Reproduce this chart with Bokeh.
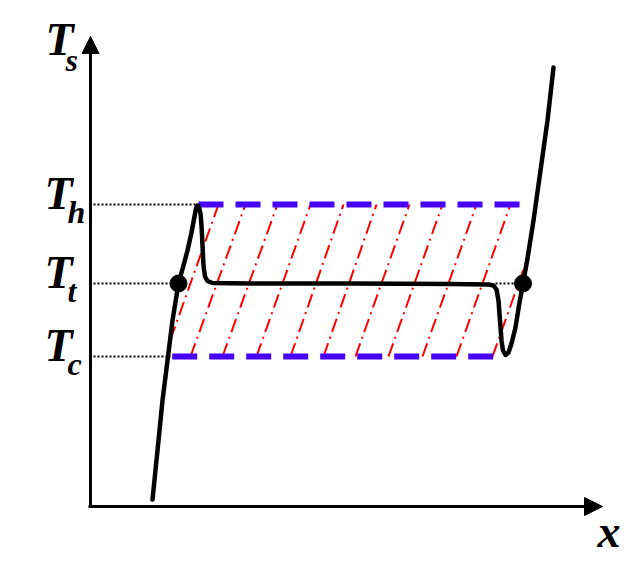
from bokeh.plotting import figure
from bokeh.models import Range1d, Arrow, NormalHead
from bokeh.core.properties import value
from bokeh.embed import file_html
from bokeh.resources import INLINE

# ---- data (schematic units) ----
T_h, T_t, T_c = 302, 223, 150
axis_y_top = 470
axis_x_end = 512

curve_x = [62, 67, 72, 77, 82, 88, 93, 97, 101, 104, 105.5, 107, 108.5, 110, 111, 112, 113,
           114.5, 117, 122, 160, 260, 360, 398, 403, 406, 408, 409.5, 411, 412.5, 415, 418,
           421, 425, 428.5, 432.5, 437, 443, 450, 457, 463]
curve_y = [7, 56, 106, 146, 186, 223, 241, 256, 274, 290, 298, 301, 299, 293, 281, 261, 241,
           230, 225.5, 223.5, 223, 223, 222.5, 222, 221, 217, 206, 186, 166, 156, 151.5, 154,
           163, 179, 201, 223, 248, 286, 336, 386, 439]

# stable-branch points used as the hatch boundaries
left_branch = [(77, 146), (88, 223)]
right_branch = [(432.5, 223), (443, 286)]

# hatch lines: x where each line meets T_c and where it meets T_h
hatch_x_low = [74, 100, 132, 166, 200, 233, 265, 298, 332, 366, 402]
hatch_x_high = [128, 155, 187, 220, 253, 286, 319, 352, 386, 420, 456]

# intersection points (circles) and dashed bounds
circle_x = [88, 432.5]
circle_y = [T_t, T_t]
th_span = [108, 432]
tc_span = [81.7, 404.3]
peak_x = 106
tc_left_x = 80
tt_right_start = 405

y_labels = ["h", "t", "c"]
y_levels = [T_h, T_t, T_c]

# ---- figure ----
p = figure(width=630, height=562, x_range=Range1d(-90, 540), y_range=Range1d(-56, 506),
           output_backend="svg", toolbar_location=None, min_border=0,
           x_axis_type=None, y_axis_type=None)
p.grid.visible = False
p.outline_line_color = None
p.background_fill_color = "white"
p.border_fill_color = "white"

# hatch lines clipped between T_c / T_h and the two stable branches
def branch_x(br, y):
    (x0, y0), (x1, y1) = br
    return x0 + (y - y0) * (x1 - x0) / (y1 - y0)

hx0, hy0, hx1, hy1 = [], [], [], []
for xl, xh in zip(hatch_x_low, hatch_x_high):
    def hx(y):
        return xl + (xh - xl) * (y - T_c) / (T_h - T_c)
    ylo, yhi = T_c, T_h
    a0 = hx(T_c) - branch_x(left_branch, T_c)
    a1 = hx(T_h) - branch_x(left_branch, T_h)
    if a0 < 0 and a1 > 0:
        ylo = T_c + (T_h - T_c) * (-a0) / (a1 - a0)
    elif a0 < 0 and a1 <= 0:
        continue
    b0 = branch_x(right_branch, T_c) - hx(T_c)
    b1 = branch_x(right_branch, T_h) - hx(T_h)
    if b0 > 0 and b1 < 0:
        yhi = T_c + (T_h - T_c) * b0 / (b0 - b1)
    elif b0 <= 0:
        continue
    if yhi <= ylo:
        continue
    hx0.append(hx(ylo)); hy0.append(ylo)
    hx1.append(hx(yhi)); hy1.append(yhi)

p.segment(x0=hx0, y0=hy0, x1=hx1, y1=hy1, line_color="#ff0000", line_width=2,
          line_dash="14 5 2 5")

# blue dashed bounds
p.line(x=th_span, y=[T_h, T_h], line_color="#4600f5", line_width=6, line_dash="25 12")
p.line(x=tc_span, y=[T_c, T_c], line_color="#4600f5", line_width=6, line_dash="25 12")

# black dotted guides
p.line(x=[3, peak_x], y=[T_h, T_h], line_color="black", line_width=2, line_dash="2 2")
p.line(x=[3, circle_x[0]], y=[T_t, T_t], line_color="black", line_width=2, line_dash="2 2")
p.line(x=[3, tc_left_x], y=[T_c, T_c], line_color="black", line_width=2, line_dash="2 2")
p.line(x=[tt_right_start, circle_x[1]], y=[T_t, T_t], line_color="black", line_width=2,
       line_dash="2 2")

# curve
p.line(x=curve_x, y=curve_y, line_color="black", line_width=4.5, line_join="round",
       line_cap="round")
p.scatter(x=circle_x, y=circle_y, size=17, marker="circle", fill_color="black",
          line_color="black")

# axes with arrows
p.add_layout(Arrow(end=NormalHead(size=17, fill_color="black", line_color="black", line_width=1),
                   x_start=0, y_start=-1, x_end=0, y_end=axis_y_top,
                   line_width=3, line_color="black"))
p.add_layout(Arrow(end=NormalHead(size=18, fill_color="black", line_color="black", line_width=1),
                   x_start=-2, y_start=0, x_end=axis_x_end, y_end=0,
                   line_width=3, line_color="black"))

font = value("Liberation Serif")
# T labels on the y side
p.text(x=[0] * 3, y=y_levels, text=["T"] * 3, x_offset=-46, y_offset=-11,
       text_font=font, text_font_style="bold italic", text_font_size="46px",
       text_baseline="alphabetic", text_align="left", text_color="black")
p.text(x=[0] * 3, y=y_levels, text=y_labels, x_offset=-23, y_offset=7,
       text_font=font, text_font_style="bold italic", text_font_size="32px",
       text_baseline="alphabetic", text_align="left", text_color="black")
# T_s at the top of the vertical axis
p.text(x=[0], y=[axis_y_top], text=["T"], x_offset=-45, y_offset=3,
       text_font=font, text_font_style="bold italic", text_font_size="46px",
       text_baseline="alphabetic", text_align="left", text_color="black")
p.text(x=[0], y=[axis_y_top], text=["s"], x_offset=-25, y_offset=23,
       text_font=font, text_font_style="bold italic", text_font_size="32px",
       text_baseline="alphabetic", text_align="left", text_color="black")
# x label
p.text(x=[axis_x_end], y=[0], text=["x"], x_offset=-5, y_offset=25,
       text_font=font, text_font_style="bold italic", text_font_size="46px",
       text_baseline="alphabetic", text_align="left", text_color="black")

open("out.html", "w").write(file_html(p, INLINE))
